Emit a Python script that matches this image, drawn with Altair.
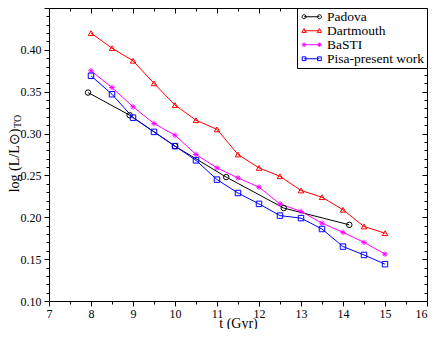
import altair as alt
import pandas as pd

# ---------------- data ----------------
series_names = ["Padova", "Dartmouth", "BaSTI", "Pisa-present work"]
series_colors = ["#000000", "#ff0000", "#ff00ff", "#0000ff"]

padova_age = [7.93, 8.92, 10.0, 11.22, 12.59, 14.15]
padova_logL = [0.349, 0.322, 0.285, 0.248, 0.211, 0.191]

grid_age = [8.0, 8.5, 9.0, 9.5, 10.0, 10.5, 11.0, 11.5, 12.0, 12.5, 13.0, 13.5, 14.0, 14.5, 15.0]
dartmouth_logL = [0.420, 0.402, 0.387, 0.360, 0.334, 0.316, 0.305, 0.275, 0.259, 0.249,
                  0.232, 0.224, 0.209, 0.189, 0.181]
basti_logL = [0.375, 0.355, 0.332, 0.312, 0.298, 0.275, 0.259, 0.247, 0.236, 0.216,
              0.207, 0.193, 0.182, 0.170, 0.156]
pisa_logL = [0.369, 0.347, 0.319, 0.302, 0.285, 0.268, 0.245, 0.229, 0.216, 0.202,
             0.199, 0.186, 0.165, 0.155, 0.144]

x_major_ticks = [7, 8, 9, 10, 11, 12, 13, 14, 15, 16]
x_minor_ticks = [7.5, 8.5, 9.5, 10.5, 11.5, 12.5, 13.5, 14.5, 15.5]
y_major_ticks = [0.10, 0.15, 0.20, 0.25, 0.30, 0.35, 0.40, 0.45]
y_minor_ticks = [round(0.10 + 0.01 * i, 2) for i in range(36) if i % 5 != 0]
x_ticks = sorted(x_major_ticks + x_minor_ticks)
y_ticks = sorted(y_major_ticks + y_minor_ticks)

x_title = "t (Gyr)"
y_title = "log (L/L\u2299)"
y_sub = "TO"

# ---------------- marker shapes ----------------
ASTERISK = "M-1,0L1,0M0,-1L0,1M-0.7,-0.7L0.7,0.7M-0.7,0.7L0.7,-0.7"
point_shapes = ["circle", "triangle-up", ASTERISK, "square"]

# legend glyphs: short line with a marker at each end (unit = 4 px)
LINE = "M-1.92,0L1.92,0"
leg_circle = LINE + ("M-2.42,0A0.5,0.5 0 1,1 -1.42,0A0.5,0.5 0 1,1 -2.42,0"
                     "M1.42,0A0.5,0.5 0 1,1 2.42,0A0.5,0.5 0 1,1 1.42,0")
leg_tri = LINE + "M-2.47,0.42L-1.92,-0.55L-1.37,0.42ZM1.37,0.42L1.92,-0.55L2.47,0.42Z"
leg_ast = LINE + ("M-2.47,0L-1.37,0M-1.92,-0.55L-1.92,0.55M-2.31,-0.39L-1.53,0.39M-2.31,0.39L-1.53,-0.39"
                  "M1.37,0L2.47,0M1.92,-0.55L1.92,0.55M1.53,-0.39L2.31,0.39M1.53,0.39L2.31,-0.39")
leg_sq = LINE + "M-2.39,-0.47L-1.45,-0.47L-1.45,0.47L-2.39,0.47ZM1.45,-0.47L2.39,-0.47L2.39,0.47L1.45,0.47Z"
legend_shapes = [leg_circle, leg_tri, leg_ast, leg_sq]

rows = []
for t, v in zip(padova_age, padova_logL):
    rows.append({"t": t, "L": v, "series": "Padova"})
for name, vals in [("Dartmouth", dartmouth_logL), ("BaSTI", basti_logL),
                   ("Pisa-present work", pisa_logL)]:
    for t, v in zip(grid_age, vals):
        rows.append({"t": t, "L": v, "series": name})
df = pd.DataFrame(rows)

FONT = "Liberation Serif"
xdom = [7, 16]
ydom = [0.10, 0.45]

x_major = "datum.value % 1 === 0"
y_major = "abs(datum.value*20 - round(datum.value*20)) < 0.000001"
x_tick_size = {"condition": {"test": x_major, "value": 5}, "value": 3}
y_tick_size = {"condition": {"test": y_major, "value": 5}, "value": 3}

xscale = alt.Scale(domain=xdom, nice=False, zero=False)
yscale = alt.Scale(domain=ydom, nice=False, zero=False)

color_nolegend = alt.Color("series:N", scale=alt.Scale(domain=series_names, range=series_colors),
                           legend=None)

lines = alt.Chart(df).mark_line(strokeWidth=1).encode(
    x=alt.X("t:Q", scale=xscale,
            axis=alt.Axis(orient="bottom", values=x_ticks, title=x_title,
                          tickSize=x_tick_size, labelFlush=False, labelOverlap=False,
                          labelPadding=2,
                          labelAlign={"condition": {"test": "datum.value >= 16", "value": "right"},
                                      "value": "center"},
                          labelExpr="datum.value % 1 === 0 ? format(datum.value, 'd') : ''",
                          titleY=26, titleBaseline="alphabetic")),
    y=alt.Y("L:Q", scale=yscale,
            axis=alt.Axis(orient="left", values=y_ticks, title=y_title,
                          tickSize=y_tick_size, labelFlush=False, labelOverlap=False,
                          labelPadding=3,
                          labelExpr="(" + y_major + ") && datum.value < 0.44 ? format(datum.value, '.2f') : ''",
                          titleAngle=270, titleX=-31, titleY=152, titleAlign="center",
                          titleBaseline="alphabetic")),
    color=color_nolegend,
    detail="series:N",
)

# points; their axes draw the top and right frame lines
points = alt.Chart(df).mark_point(filled=False, size=30, strokeWidth=1, opacity=1).encode(
    x=alt.X("t:Q", scale=xscale,
            axis=alt.Axis(orient="top", ticks=False, labels=False, title=None)),
    y=alt.Y("L:Q", scale=yscale,
            axis=alt.Axis(orient="right", ticks=False, labels=False, title=None)),
    color=color_nolegend,
    shape=alt.Shape("series:N", scale=alt.Scale(domain=series_names, range=point_shapes),
                    legend=None),
)

empty = alt.Chart(df).transform_filter("false")

# mirrored ticks on the top and right sides (major, then minor)
major_mirror = empty.mark_point().encode(
    x=alt.X("t:Q", scale=xscale,
            axis=alt.Axis(orient="top", values=x_major_ticks, tickSize=5, offset=-5,
                          domain=False, labels=False, title=None)),
    y=alt.Y("L:Q", scale=yscale,
            axis=alt.Axis(orient="right", values=y_major_ticks, tickSize=5, offset=-5,
                          domain=False, labels=False, title=None)),
)
minor_mirror = empty.mark_point().encode(
    x=alt.X("t:Q", scale=xscale,
            axis=alt.Axis(orient="top", values=x_minor_ticks, tickSize=3, offset=-3,
                          domain=False, labels=False, title=None)),
    y=alt.Y("L:Q", scale=yscale,
            axis=alt.Axis(orient="right", values=y_minor_ticks, tickSize=3, offset=-3,
                          domain=False, labels=False, title=None)),
)

legend_layer = empty.mark_point(filled=False, strokeWidth=1, opacity=1).encode(
    x=alt.X("t:Q", scale=xscale, axis=None),
    y=alt.Y("L:Q", scale=yscale, axis=None),
    color=alt.Color("series:N", scale=alt.Scale(domain=series_names, range=series_colors),
                    legend=alt.Legend(title=None)),
    shape=alt.Shape("series:N", scale=alt.Scale(domain=series_names, range=legend_shapes),
                    legend=alt.Legend(title=None)),
)

sub = alt.Chart(pd.DataFrame({"txt": [y_sub]})).mark_text(
    angle=270, align="left", baseline="alphabetic", fontSize=10, font=FONT, color="black"
).encode(x=alt.value(-28), y=alt.value(120), text="txt:N")

chart = alt.layer(lines, points, major_mirror, minor_mirror, legend_layer, sub).resolve_scale(
    color="independent", shape="independent"
).resolve_axis(
    x="independent", y="independent"
).properties(
    width=378, height=293,
    autosize=alt.AutoSizeParams(type="none"),
    padding={"left": 41, "top": 0, "right": 1, "bottom": 28},
).configure_view(stroke=None).configure_axis(
    domainColor="black", tickColor="black", domainWidth=1, tickWidth=1,
    labelFont=FONT, labelFontSize=12, labelColor="black",
    titleFont=FONT, titleFontSize=14, titleColor="black", titleFontWeight="normal",
    grid=False,
).configure_legend(
    orient="top-right", offset=0, padding=2, strokeColor="black", fillColor="white",
    labelFont=FONT, labelFontSize=13.5, labelColor="black", symbolStrokeWidth=1,
    symbolSize=64, symbolOffset=6, labelOffset=8.5, rowPadding=-1.2,
)

chart.save("out.html", embed_options={"renderer": "svg", "actions": False})
